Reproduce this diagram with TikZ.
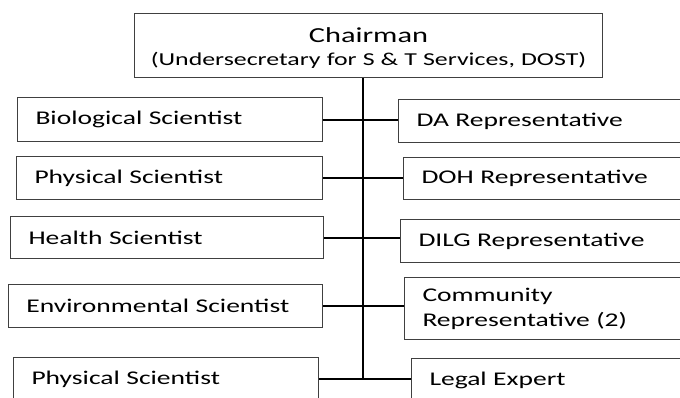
\documentclass[tikz,border=0pt]{standalone}
\usepackage{fontspec}
\setmainfont{Carlito}[FakeStretch=1.42]
\usepackage{tikz}

\tikzset{
  member/.style={draw=black!75, line width=1pt, anchor=north west, inner xsep=18pt,
    inner ysep=0pt, minimum height=43pt, align=left, text width=#1,
    font=\fontsize{19.4}{25}\selectfont},
  link/.style={line width=2pt},
  trunk/.style={line width=2.7pt}
}

\begin{document}
\begin{tikzpicture}[x=1pt,y=-1pt]
    \clip (0,0) rectangle (680,397);

    % Chairman
    \node[draw=black!75, line width=1pt, anchor=north west, minimum width=468pt,
      minimum height=64pt, text width=466pt, align=center, inner xsep=1pt, inner ysep=0pt,
      font=\fontsize{18.2}{23}\selectfont] (chair) at (134,13)
      {\rule{0pt}{20pt}{\fontsize{21.4}{23}\selectfont Chairman}\\(Undersecretary for S \& T Services, DOST)};

    % Left column
    \node[member=269pt, minimum height=44pt] (bio) at (17,97) {Biological Scientist};
    \node[member=270pt] (phys) at (16,156) {Physical Scientist};
    \node[member=277pt, minimum height=42pt] (health) at (10,216) {Health Scientist};
    \node[member=278pt] (env) at (8,284) {Environmental Scientist};
    \node[member=269pt] (physb) at (13,357) {Physical Scientist};

    % Right column
    \node[member=284pt] (da) at (398,99) {DA Representative};
    \node[member=284pt, minimum height=42pt] (doh) at (403,157) {DOH Representative};
    \node[member=284pt] (dilg) at (400,219) {DILG Representative};
    \node[member=284pt, minimum height=62pt] (comm) at (404,277) {Community\\Representative (2)};
    \node[member=284pt] (legal) at (411,358) {Legal Expert};

    % Spine
    \coordinate (spine) at (363,0);
    \draw[trunk] (chair.south -| spine) -- (spine |- physb.east);

    % Rows
    \draw[link] (bio.east) -- (bio.east -| da.west);
    \draw[link] (phys.east) -- (phys.east -| doh.west);
    \draw[link] (health.east) -- (health.east -| dilg.west);
    \draw[link] (env.east) -- (env.east -| comm.west);
    \draw[link] (physb.east) -- (physb.east -| legal.west);
\end{tikzpicture}
\end{document}
